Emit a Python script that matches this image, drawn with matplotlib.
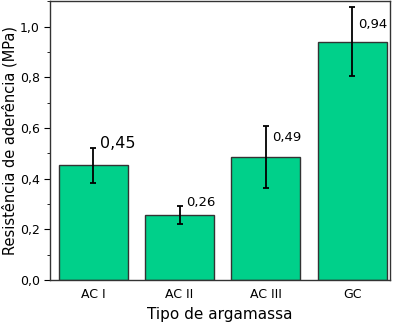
import matplotlib
matplotlib.use("Agg")
import matplotlib.pyplot as plt
from matplotlib.ticker import MultipleLocator, FuncFormatter

# Data
tipos = ["AC I", "AC II", "AC III", "GC"]
resistencia = [0.453, 0.257, 0.486, 0.941]
desvio = [0.070, 0.037, 0.121, 0.136]
rotulos = ["0,45", "0,26", "0,49", "0,94"]

# label styling (font size, vertical offset below error-bar top in points)
tam_rotulo = [11.5, 9.5, 9.5, 9.5]
desloc = [0, 0, -10.5, -15]

fig = plt.figure(figsize=(3.98, 3.25), dpi=100)
ax = fig.add_axes([0.126, 0.138, 0.854, 0.858])

x = range(len(tipos))
ax.bar(x, resistencia, width=0.8, color="#00d08a", edgecolor="#333333",
       linewidth=1.0, zorder=2)
ax.errorbar(x, resistencia, yerr=desvio, fmt="none", ecolor="black",
            elinewidth=1.3, capsize=2.5, capthick=1.3, zorder=3)

for i, (v, e, t) in enumerate(zip(resistencia, desvio, rotulos)):
    ax.annotate(t, xy=(i, v + e), xytext=(4.5, desloc[i]),
                textcoords="offset points", fontsize=tam_rotulo[i],
                ha="left", va="baseline", zorder=4)

ax.set_xlim(-0.5, 3.44)
ax.set_ylim(0, 1.1)
ax.set_xticks(list(x))
ax.set_xticklabels(tipos, fontsize=9)
ax.tick_params(axis="x", length=0, pad=6)
ax.yaxis.set_major_locator(MultipleLocator(0.2))
ax.yaxis.set_minor_locator(MultipleLocator(0.1))
ax.yaxis.set_major_formatter(FuncFormatter(lambda v, p: f"{v:.1f}".replace(".", ",")))
ax.tick_params(axis="y", which="major", length=4, labelsize=9, direction="out")
ax.tick_params(axis="y", which="minor", length=2.5, direction="out")

for sp in ax.spines.values():
    sp.set_color("#333333")
    sp.set_linewidth(1.0)

ax.set_ylabel("Resistência de aderência (MPa)", fontsize=10.5)
ax.yaxis.set_label_coords(-0.095, 0.5)
ax.set_xlabel("Tipo de argamassa", fontsize=11)

fig.savefig("out.png", dpi=100)
